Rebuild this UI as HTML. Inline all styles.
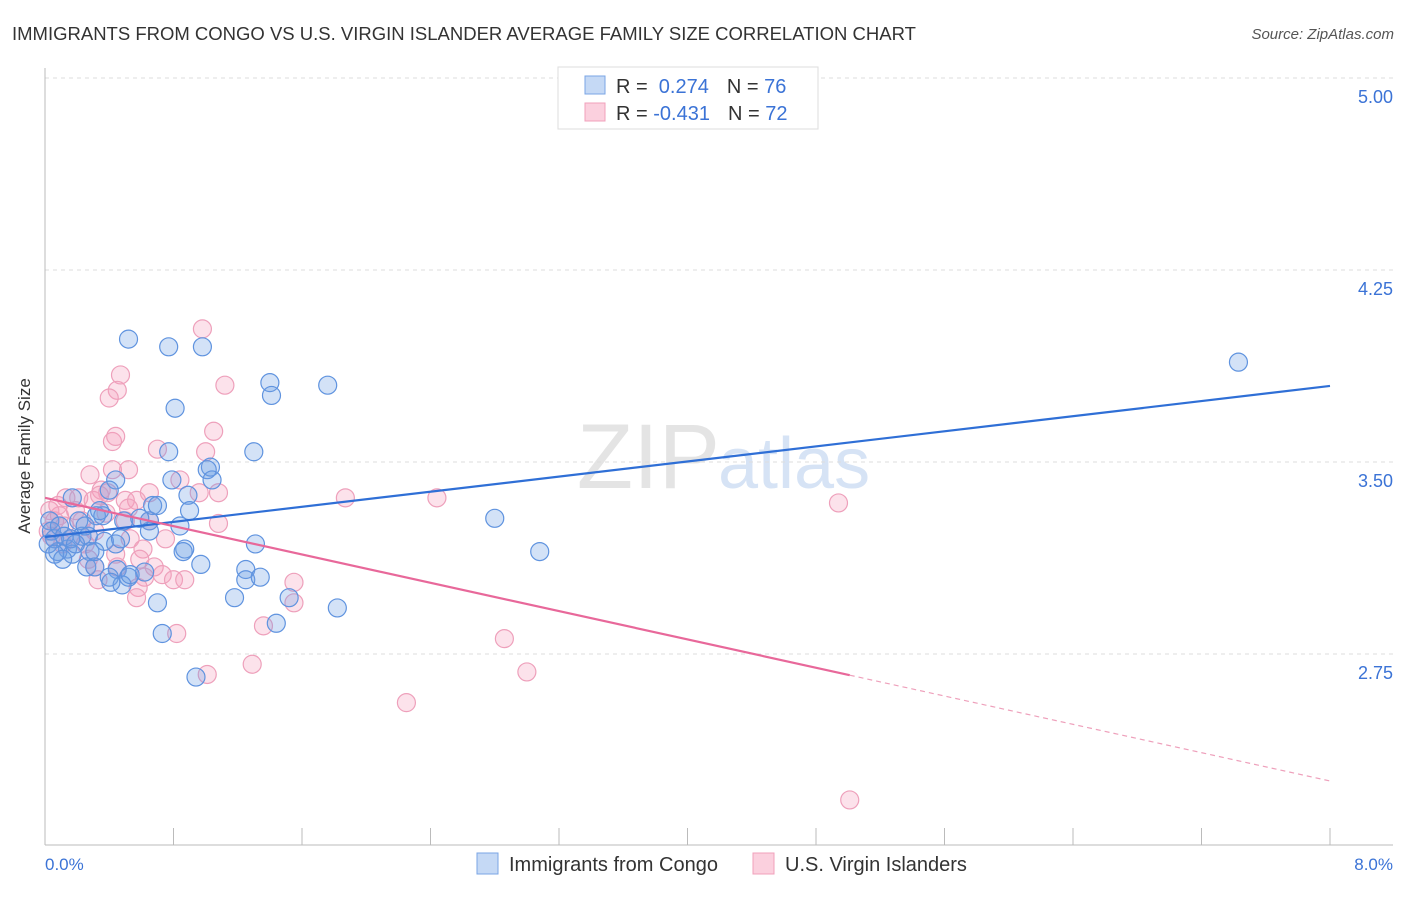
<!DOCTYPE html>
<html><head><meta charset="utf-8"><style>
body{margin:0;background:#fff;font-family:"Liberation Sans",sans-serif}
svg text{font-family:"Liberation Sans",sans-serif}
</style></head><body>
<svg id="c" width="1406" height="892">
<text x="12" y="40" font-size="18.5" fill="#333">IMMIGRANTS FROM CONGO VS U.S. VIRGIN ISLANDER AVERAGE FAMILY SIZE CORRELATION CHART</text>
<text x="1394" y="39" font-size="15" fill="#555" text-anchor="end" font-style="italic">Source: ZipAtlas.com</text>
<text x="720" y="488" font-size="92" fill="#e4e4e4" text-anchor="end" font-family="Liberation Serif">ZIP</text>
<text x="718" y="488" font-size="72" fill="#d6e3f5">atlas</text>
<g id="grid"></g><g id="axes"></g><g id="pts"></g><g id="lines"></g>
<text x="30" y="456" font-size="17" fill="#333" text-anchor="middle" transform="rotate(-90 30 456)">Average Family Size</text>
<text x="45" y="870" font-size="17" fill="#3b73d6">0.0%</text>
<text x="1393" y="870" font-size="17" fill="#3b73d6" text-anchor="end">8.0%</text>
<g>
<rect x="558" y="67" width="260" height="62" fill="#fff" stroke="#ddd"/>
<rect x="585" y="76" width="20" height="18" fill="#c5d9f5" stroke="#7aa5e5"/>
<rect x="585" y="103" width="20" height="18" fill="#fbd0de" stroke="#f0a0bb"/>
<text x="616" y="93" font-size="20" fill="#333">R = <tspan fill="#3b73d6">&#160;0.274</tspan><tspan dx="18">N = </tspan><tspan fill="#3b73d6">76</tspan></text>
<text x="616" y="120" font-size="20" fill="#333">R = <tspan fill="#3b73d6">-0.431</tspan><tspan dx="18">N = </tspan><tspan fill="#3b73d6">72</tspan></text>
</g>
<g>
<rect x="477" y="853" width="21" height="21" fill="#c5d9f5" stroke="#7aa5e5"/>
<text x="509" y="871" font-size="20" fill="#333">Immigrants from Congo</text>
<rect x="753" y="853" width="21" height="21" fill="#fbd0de" stroke="#f0a0bb"/>
<text x="785" y="871" font-size="20" fill="#333">U.S. Virgin Islanders</text>
</g>
</svg>
<script>
const yTicks=[5.00,4.25,3.50,2.75];
const xTickValues=[0.8,1.6,2.4,3.2,4.0,4.8,5.6,6.4,7.2,8.0];
const blueX=[0.52,0.77,0.98,0.81,1.40,1.41,1.76,1.30,0.77,1.03,1.01,0.79,1.04,0.89,0.44,0.40,0.90,0.17,0.32,0.36,0.49,0.65,0.67,0.70,0.84,0.65,0.23,0.27,0.37,0.44,0.87,0.86,1.31,0.14,0.17,0.28,0.08,0.26,0.31,0.45,0.40,0.52,0.48,0.62,0.97,1.25,1.25,1.34,1.18,0.70,0.41,0.73,1.44,1.52,1.82,0.94,2.80,3.08,7.43,0.03,0.04,0.06,0.09,0.12,0.02,0.06,0.16,0.21,0.34,0.53,0.59,0.31,0.11,0.19,0.25,0.47];
const blueY=[3.98,3.95,3.95,3.71,3.81,3.76,3.80,3.54,3.54,3.48,3.47,3.43,3.43,3.37,3.43,3.39,3.31,3.36,3.29,3.29,3.27,3.27,3.33,3.33,3.25,3.23,3.21,3.21,3.19,3.18,3.16,3.15,3.18,3.16,3.14,3.15,3.15,3.09,3.09,3.08,3.05,3.05,3.02,3.07,3.10,3.08,3.04,3.05,2.97,2.95,3.03,2.83,2.87,2.97,2.93,2.66,3.28,3.15,3.89,3.27,3.23,3.20,3.25,3.21,3.18,3.14,3.20,3.27,3.31,3.06,3.28,3.15,3.12,3.18,3.25,3.20];
const pinkX=[0.98,0.47,1.12,0.45,0.40,0.42,0.44,0.70,1.05,1.00,0.52,0.28,0.42,0.35,0.65,0.84,0.96,1.08,0.13,0.21,0.30,0.39,0.50,0.57,0.52,0.38,0.23,0.31,0.65,1.08,1.87,2.44,4.94,0.53,0.75,0.61,0.31,0.45,0.68,0.73,0.80,0.62,0.87,1.55,0.58,0.57,1.55,1.36,0.82,2.86,1.01,1.29,3.00,2.25,5.01,0.03,0.06,0.09,0.02,0.12,0.08,0.16,0.25,0.19,0.34,0.27,0.44,0.50,0.33,0.11,0.04,0.59];
const pinkY=[4.02,3.84,3.80,3.78,3.75,3.58,3.60,3.55,3.62,3.54,3.47,3.45,3.47,3.39,3.38,3.43,3.38,3.38,3.36,3.36,3.35,3.38,3.35,3.35,3.32,3.30,3.27,3.23,3.27,3.26,3.36,3.36,3.34,3.20,3.20,3.16,3.09,3.09,3.09,3.06,3.04,3.05,3.04,3.03,3.01,2.97,2.95,2.86,2.83,2.81,2.67,2.71,2.68,2.56,2.18,3.31,3.27,3.29,3.23,3.25,3.33,3.20,3.18,3.31,3.37,3.12,3.14,3.27,3.04,3.18,3.21,3.12];
const blueLine=[3.207,3.797];
const pinkLine=[3.36,2.254];
const pinkSolidEnd=5.01;
const NS='http://www.w3.org/2000/svg';
const xs=v=>45+v/8*1285;
const ys=v=>78+(5-v)*256;
function mk(t,a,p){const e=document.createElementNS(NS,t);for(const k in a)e.setAttribute(k,a[k]);p.appendChild(e);return e;}
const grid=document.getElementById('grid'),axes=document.getElementById('axes'),pts=document.getElementById('pts'),lines=document.getElementById('lines');
yTicks.forEach(v=>{const l=mk('line',{x1:45,x2:1393,y1:ys(v),y2:ys(v),stroke:'#ddd','stroke-dasharray':'4 4'},grid);


const t=mk('text',{x:1393,y:ys(v)+25,'font-size':18,fill:'#3b73d6','text-anchor':'end'},grid);t.textContent=v.toFixed(2);

});
let a=mk('line',{x1:45,x2:45,y1:68,y2:845,stroke:'#bbb'},axes);


a=mk('line',{x1:45,x2:1393,y1:845,y2:845,stroke:'#bbb'},axes);


xTickValues.forEach(v=>{const t=mk('line',{x1:xs(v),x2:xs(v),y1:828,y2:845,stroke:'#bbb'},axes);

});
function dots(X,Y,fill,stroke,name){X.forEach((x,i)=>{const c=mk('circle',{cx:xs(x),cy:ys(Y[i]),r:9,fill:fill,stroke:stroke,'stroke-width':1.2},pts);

});}
dots(pinkX,pinkY,'rgba(244,160,190,0.3)','#eea0bb','virgin-islander-point');
dots(blueX,blueY,'rgba(110,160,230,0.3)','#5f93df','congo-point');
let l=mk('line',{x1:xs(0),y1:ys(blueLine[0]),x2:xs(8),y2:ys(blueLine[1]),stroke:'#2f6fd6','stroke-width':2.2},lines);


const pe=pinkLine[0]+(pinkLine[1]-pinkLine[0])*pinkSolidEnd/8;
l=mk('line',{x1:xs(0),y1:ys(pinkLine[0]),x2:xs(pinkSolidEnd),y2:ys(pe),stroke:'#e8689a','stroke-width':2.2},lines);


l=mk('line',{x1:xs(pinkSolidEnd),y1:ys(pe),x2:xs(8),y2:ys(pinkLine[1]),stroke:'#eea0bb','stroke-width':1.2,'stroke-dasharray':'5 4'},lines);


</script>
</body></html>
